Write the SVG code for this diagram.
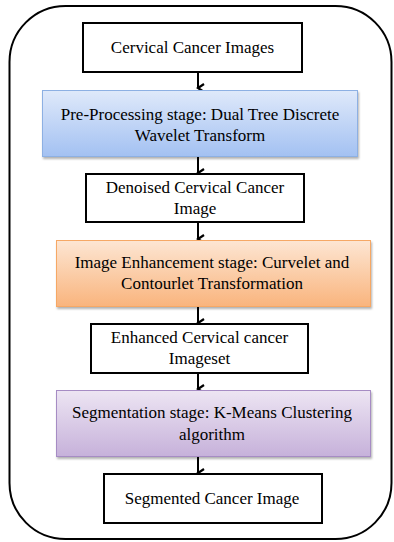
<svg xmlns="http://www.w3.org/2000/svg" width="394" height="542" viewBox="0 0 394 542">
<style>
text{font-size:17px;fill:#000;text-anchor:middle}
.plain{fill:#fff;stroke:#000;stroke-width:2}
.conn{stroke:#000;stroke-width:2;fill:none}
</style>
<defs>
<linearGradient id="gBlue" x1="0" y1="0" x2="0" y2="1"><stop offset="0" stop-color="#dfe9fa"/><stop offset="1" stop-color="#a3c1f2"/></linearGradient>
<linearGradient id="gOrange" x1="0" y1="0" x2="0" y2="1"><stop offset="0" stop-color="#fde6d3"/><stop offset="1" stop-color="#f9b47d"/></linearGradient>
<linearGradient id="gPurple" x1="0" y1="0" x2="0" y2="1"><stop offset="0" stop-color="#ede5f3"/><stop offset="1" stop-color="#c6b1da"/></linearGradient>
<filter id="sh" x="-5%" y="-10%" width="110%" height="130%"><feDropShadow dx="1" dy="2" stdDeviation="1.2" flood-color="#000" flood-opacity="0.3"/></filter>
<marker id="ah" markerWidth="10" markerHeight="10" refX="5" refY="8" orient="auto" markerUnits="userSpaceOnUse" viewBox="0 0 10 10"><path d="M1,2 L5,8 L9,2" fill="none" stroke="#000" stroke-width="2.2"/></marker>
</defs>
<rect id="frame" x="9.5" y="6" width="382" height="533" rx="56" ry="56" fill="none" stroke="#000" stroke-width="2"/>
<g id="connectors">
<line class="conn" x1="198" y1="72" x2="198" y2="88" marker-end="url(#ah)"/>
<line class="conn" x1="198" y1="157" x2="198" y2="173" marker-end="url(#ah)"/>
<line class="conn" x1="198" y1="222" x2="198" y2="239" marker-end="url(#ah)"/>
<line class="conn" x1="198" y1="307" x2="198" y2="323" marker-end="url(#ah)"/>
<line class="conn" x1="198" y1="373" x2="198" y2="389" marker-end="url(#ah)"/>
<line class="conn" x1="198" y1="457" x2="198" y2="473" marker-end="url(#ah)"/>
</g>
<g font-family="'Liberation Serif', 'Times New Roman', 'DejaVu Serif', serif">
<g id="n1"><rect class="plain" x="83" y="23" width="219" height="49"/><text x="192.5" y="53">Cervical Cancer Images</text></g>
<g id="n2"><rect x="42.5" y="90.5" width="315" height="66" fill="url(#gBlue)" stroke="#8db0e3" stroke-width="1" filter="url(#sh)"/><text x="200" y="120">Pre-Processing stage: Dual Tree Discrete</text><text x="200" y="141">Wavelet Transform</text></g>
<g id="n3"><rect class="plain" x="86" y="174" width="218" height="48"/><text x="195" y="193">Denoised Cervical Cancer</text><text x="195" y="214">Image</text></g>
<g id="n4"><rect x="56.5" y="240.5" width="314" height="66" fill="url(#gOrange)" stroke="#f6a865" stroke-width="1" filter="url(#sh)"/><text x="212" y="268">Image Enhancement stage: Curvelet and</text><text x="212" y="289">Contourlet Transformation</text></g>
<g id="n5"><rect class="plain" x="91" y="324" width="217" height="49"/><text x="199.5" y="343">Enhanced Cervical cancer</text><text x="199.5" y="364">Imageset</text></g>
<g id="n6"><rect x="56.5" y="390.5" width="314" height="66" fill="url(#gPurple)" stroke="#a68cc4" stroke-width="1" filter="url(#sh)"/><text x="212" y="418">Segmentation stage: K-Means Clustering</text><text x="212" y="440">algorithm</text></g>
<g id="n7"><rect class="plain" x="104" y="474" width="218" height="49"/><text x="212" y="504">Segmented Cancer Image</text></g>
</g>
</svg>
